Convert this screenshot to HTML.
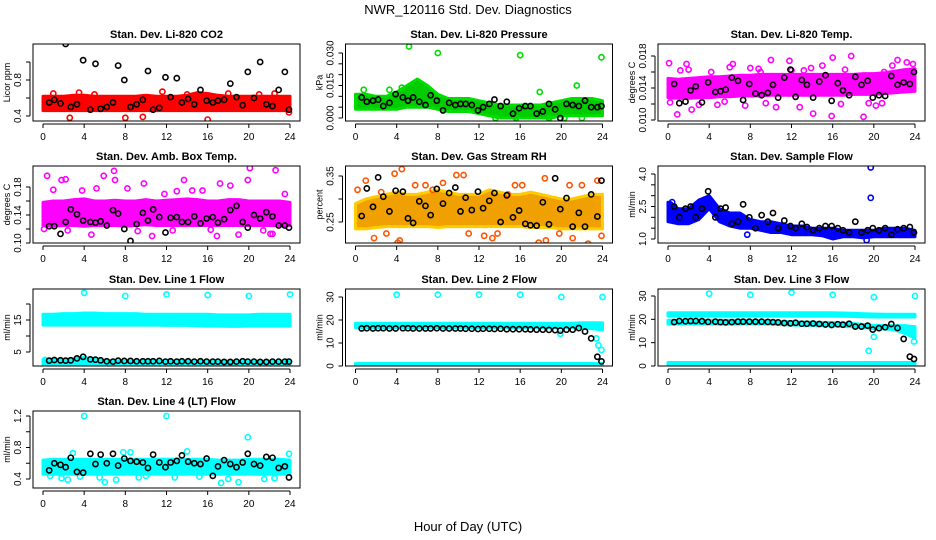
<!DOCTYPE html>
<html><head><meta charset="utf-8"><style>
body{margin:0;background:#fff;}
svg{display:block;font-family:"Liberation Sans",sans-serif;}
</style></head><body>
<svg id="c" width="936" height="540" viewBox="0 0 936 540">
<text x="468" y="14" text-anchor="middle" font-size="13">NWR_120116  Std. Dev. Diagnostics</text>
<text x="468" y="531" text-anchor="middle" font-size="13">Hour of Day (UTC)</text>
</svg>
<script>
const bandHours=[0,1,2,3,4,5,6,7,8,9,10,11,12,13,14,15,16,17,18,19,20,21,22,23,24];
const blackHours=[0.6,1.1,1.7,2.2,2.7,3.3,3.9,4.6,5.1,5.6,6.2,6.8,7.3,7.9,8.5,9.1,9.7,10.2,10.7,11.3,11.9,12.4,13.0,13.5,14.1,14.7,15.3,15.9,16.5,17.0,17.6,18.2,18.8,19.4,19.9,20.5,21.1,21.7,22.3,22.9,23.5,23.9];
const xTicks=[0,4,8,12,16,20,24];

// P1 CO2
const co2Lo=[0.46,0.46,0.46,0.46,0.46,0.46,0.46,0.46,0.46,0.46,0.46,0.46,0.46,0.46,0.46,0.46,0.46,0.46,0.46,0.46,0.46,0.46,0.46,0.46,0.46];
const co2Hi=[0.62,0.62,0.62,0.63,0.63,0.62,0.62,0.62,0.62,0.62,0.63,0.62,0.62,0.62,0.63,0.66,0.65,0.63,0.62,0.62,0.62,0.62,0.62,0.62,0.62];
const co2ExH=[2.6,8.0,9.7,16.0,23.9,1.0,3.5,11.6,0.2,5.0,14.0,18.0,21.0,22.5];
const co2ExV=[0.38,0.38,0.39,0.36,0.44,0.65,0.66,0.67,0.58,0.64,0.64,0.65,0.64,0.65];
const co2Blk=[0.55,0.58,0.54,1.2,0.5,0.53,1.02,0.47,0.98,0.48,0.5,0.55,0.96,0.8,0.5,0.53,0.58,0.9,0.47,0.49,0.83,0.61,0.82,0.55,0.59,0.53,0.69,0.57,0.55,0.57,0.58,0.76,0.61,0.52,0.89,0.6,1.0,0.53,0.51,0.69,0.89,0.47];
// P2 pressure
const prLo=[0.004,0.004,0.004,0.004,0.004,0.005,0.005,0.005,0.004,0.003,0.003,0.003,0.002,0.001,0.000,0.000,0.000,0.000,0.000,0.000,0.001,0.001,0.001,0.001,0.001];
const prHi=[0.011,0.011,0.010,0.010,0.012,0.015,0.018,0.015,0.011,0.009,0.009,0.009,0.008,0.007,0.006,0.006,0.006,0.006,0.006,0.007,0.008,0.009,0.009,0.009,0.008];
const prExH=[5.2,8.0,16.0,23.9,0.8,3.3,4.5,17.9,21.5,13.6,15.6,20.3,18.8,22.0];
const prExV=[0.033,0.030,0.029,0.028,0.013,0.013,0.014,0.012,0.015,0.0,0.0,0.0,0.0,0.0];
const prBlk=[0.0095,0.0075,0.008,0.0085,0.0055,0.007,0.011,0.0095,0.008,0.0095,0.0075,0.006,0.0105,0.008,0.0035,0.007,0.006,0.0065,0.0065,0.006,0.0035,0.005,0.0065,0.0085,0.0055,0.0075,0.002,0.0045,0.0055,0.0055,0.002,0.003,0.0065,0.004,0.0,0.0065,0.006,0.0055,0.008,0.005,0.005,0.0055];
// P3 temp
const tpLo=[0.0128,0.0127,0.0127,0.0128,0.0128,0.0129,0.0129,0.0130,0.0130,0.0130,0.0131,0.0131,0.0131,0.0131,0.0131,0.0131,0.0131,0.0131,0.0132,0.0132,0.0132,0.0133,0.0134,0.0135,0.0136];
const tpHi=[0.0152,0.0151,0.0152,0.0153,0.0154,0.0154,0.0155,0.0156,0.0156,0.0157,0.0157,0.0157,0.0157,0.0157,0.0157,0.0157,0.0157,0.0157,0.0157,0.0158,0.0158,0.0159,0.0161,0.0163,0.0164];
const tpExH=[0.1,0.9,1.8,10.0,11.8,17.8,19.0,16.0,22.3,13.9,2.3,5.5,7.5,10.5,12.8,15.9,20.2,23.2,6.3,8.0,14.1,4.2,18.3,21.0,0.2,3.0,9.0,12.0,16.8,19.5,2.0,6.0,9.5,15.0,21.8,23.8,1.2,4.8,8.8,13.2,17.2,20.8];
const tpExV=[0.0171,0.0107,0.0170,0.0175,0.0174,0.0180,0.0104,0.0178,0.0175,0.0165,0.0113,0.0123,0.0118,0.0116,0.0116,0.0105,0.0118,0.0172,0.0170,0.0165,0.0108,0.0160,0.0150,0.0160,0.0122,0.0119,0.0160,0.0162,0.0120,0.0121,0.0163,0.0166,0.0121,0.0168,0.0168,0.0170,0.0162,0.0119,0.0164,0.0162,0.0163,0.0121];
const tpBlk=[0.0145,0.0121,0.0123,0.0137,0.0142,0.0122,0.0147,0.0135,0.0136,0.0138,0.0153,0.0149,0.0125,0.0145,0.0133,0.0131,0.0134,0.0144,0.0128,0.0153,0.0163,0.0129,0.0150,0.0144,0.0128,0.0148,0.0156,0.0124,0.0146,0.0137,0.0131,0.0154,0.0144,0.0149,0.0128,0.0131,0.0130,0.0155,0.0144,0.0147,0.0145,0.0160];
// P4 amb box
const abLo=[0.125,0.124,0.125,0.125,0.124,0.125,0.125,0.125,0.124,0.125,0.126,0.125,0.125,0.125,0.125,0.125,0.125,0.125,0.125,0.125,0.125,0.125,0.125,0.125,0.125];
const abHi=[0.158,0.160,0.160,0.162,0.163,0.160,0.160,0.161,0.160,0.160,0.162,0.160,0.161,0.162,0.163,0.162,0.160,0.160,0.162,0.162,0.160,0.160,0.160,0.160,0.158];
const abExH=[0.4,1.8,2.2,5.9,6.9,7.0,10.6,4.7,9.8,13.7,19.9,20.1,22.6,22.1,22.3,16.9,19.0,0.1,3.8,11.8,14.5,17.2,2.4,8.2,12.6,15.5,18.2,21.4,1.0,5.2,9.2,13.0,16.3,23.5];
const abExV=[0.196,0.19,0.191,0.196,0.203,0.19,0.11,0.112,0.185,0.19,0.19,0.207,0.204,0.113,0.113,0.11,0.112,0.12,0.175,0.17,0.175,0.185,0.118,0.178,0.118,0.175,0.182,0.118,0.176,0.178,0.117,0.174,0.119,0.17];
const abBlk=[0.124,0.124,0.113,0.13,0.148,0.141,0.132,0.13,0.129,0.131,0.125,0.147,0.142,0.12,0.103,0.127,0.143,0.132,0.148,0.137,0.115,0.136,0.137,0.13,0.13,0.138,0.128,0.135,0.137,0.129,0.134,0.147,0.153,0.13,0.122,0.14,0.135,0.144,0.138,0.125,0.125,0.122];
// P5 RH
const rhLo=[0.235,0.235,0.238,0.24,0.24,0.24,0.24,0.24,0.238,0.24,0.24,0.24,0.24,0.24,0.24,0.24,0.24,0.238,0.238,0.238,0.235,0.235,0.235,0.235,0.235];
const rhHi=[0.29,0.3,0.305,0.31,0.315,0.31,0.31,0.315,0.32,0.315,0.31,0.31,0.31,0.32,0.315,0.31,0.31,0.315,0.31,0.305,0.3,0.3,0.305,0.31,0.31];
const rhExH=[4.5,3.8,9.8,10.5,18.4,23.5,1.0,4.1,4.3,1.8,12.5,13.3,17.8,22.6,18.5,21.1,23.9,6.8,15.5,7.5,14.8,0.2,2.5,8.5,11.0,16.2,19.8,20.8,3.0,5.8,13.8,22.0];
const rhExV=[0.365,0.355,0.352,0.352,0.345,0.34,0.34,0.205,0.21,0.215,0.22,0.215,0.205,0.203,0.21,0.215,0.22,0.33,0.33,0.32,0.31,0.32,0.315,0.335,0.225,0.33,0.225,0.33,0.225,0.33,0.225,0.33];
const rhBlk=[0.263,0.323,0.283,0.347,0.305,0.273,0.318,0.316,0.258,0.248,0.295,0.285,0.265,0.322,0.29,0.313,0.325,0.273,0.303,0.276,0.316,0.28,0.296,0.313,0.25,0.308,0.26,0.275,0.246,0.243,0.242,0.293,0.245,0.345,0.278,0.302,0.24,0.27,0.24,0.31,0.262,0.34];
// P6 sample flow
const sfLo=[1.8,1.7,1.7,1.9,2.4,1.8,1.6,1.5,1.5,1.4,1.3,1.3,1.2,1.2,1.2,1.15,1.0,1.1,1.1,1.05,1.1,1.1,1.1,1.1,1.1];
const sfHi=[2.7,2.4,2.4,2.8,3.0,2.4,2.2,2.2,1.9,1.8,1.8,1.7,1.6,1.6,1.5,1.5,1.5,1.4,1.4,1.4,1.4,1.5,1.5,1.5,1.4];
const sfExH=[19.7,19.7,19.3,0.2,0.4,7.7];
const sfExV=[4.3,2.9,0.95,2.6,2.7,1.2];
const sfBlk=[2.5,2.0,2.4,2.5,2.0,2.4,3.2,2.0,2.4,2.45,1.7,1.8,2.6,2.0,1.5,2.1,1.8,2.2,1.5,1.85,1.6,1.5,1.7,1.55,1.4,1.5,1.6,1.6,1.5,1.4,1.3,1.8,1.3,1.4,1.5,1.4,1.5,1.2,1.45,1.5,1.55,1.3];
// P7 line1
const l1UpLo=[13.4,13.4,13.4,13.4,13.4,13.4,13.4,13.4,13.4,13.4,13.4,13.4,13.3,13.3,13.3,13.2,13.1,13.1,13.0,13.0,13.1,13.1,13.1,13.1,13.1];
const l1UpHi=[16.8,16.8,17.0,17.0,17.2,17.2,17.0,17.0,17.0,17.0,16.8,16.8,16.8,16.8,16.8,16.8,16.8,16.6,16.6,16.6,16.6,16.8,16.8,16.8,16.8];
const l1LoLo=[1.0,1.0,1.0,1.0,1.0,1.0,1.0,1.0,1.0,1.0,1.0,1.0,1.0,1.0,1.0,1.0,1.0,1.0,1.0,1.0,1.0,1.0,1.0,1.0,1.0];
const l1LoHi=[2.7,2.7,2.7,2.9,3.3,2.7,2.3,2.3,2.2,2.2,2.2,2.2,2.2,2.2,2.2,2.2,2.2,2.1,2.1,2.1,2.1,2.1,2.1,2.1,2.1];
const l1ExH=[4,8,12,16,20,24,0.2];
const l1ExV=[23.5,22.5,23,22.8,22.5,23,2.5];
const l1Blk=[2.3,2.5,2.4,2.3,2.4,3.0,3.5,2.7,2.6,2.4,2.1,2.0,2.3,2.2,2.2,2.1,2.1,2.1,2.1,2.2,2.0,2.1,2.0,2.1,2.1,2.0,2.1,2.0,2.0,2.0,1.9,1.9,2.0,2.1,2.0,2.0,1.9,1.9,2.0,2.0,2.0,2.0];
// P8 line2
const l2UpLo=[16.7,16.7,16.7,16.7,16.7,16.7,16.7,16.7,16.7,16.7,16.7,16.7,16.7,16.7,16.7,16.7,16.7,16.7,16.7,16.7,16.7,16.7,16.7,16.2,15.7];
const l2UpHi=[18.6,18.6,18.6,18.6,18.6,18.6,18.6,18.6,18.6,18.6,18.6,18.6,18.6,18.6,18.6,18.6,18.6,18.6,18.6,18.6,18.6,18.6,18.8,18.8,18.8];
const l2LoLo=[0.3,0.3,0.3,0.3,0.3,0.3,0.3,0.3,0.3,0.3,0.3,0.3,0.3,0.3,0.3,0.3,0.3,0.3,0.3,0.3,0.3,0.3,0.3,0.3,0.3];
const l2LoHi=[1.1,1.1,1.1,1.1,1.1,1.1,1.1,1.1,1.1,1.1,1.1,1.1,1.1,1.1,1.1,1.1,1.1,1.1,1.1,1.1,1.1,1.1,1.1,1.1,1.1];
const l2ExH=[4,8,12,16,20,24,19.9,23.4,23.6,23.9];
const l2ExV=[31,31,31,31,30,30,14,12,9,7];
const l2Blk=[16.3,16.4,16.3,16.4,16.4,16.3,16.3,16.4,16.4,16.3,16.3,16.3,16.3,16.4,16.3,16.3,16.3,16.3,16.2,16.2,16.1,16.2,16.2,16.1,16.2,16.0,16.0,16.0,16.0,15.9,15.8,15.8,15.7,15.6,15.4,15.8,15.8,16.5,15.0,12.0,4.0,2.0];
// P9 line3
const l3UpLo=[21.4,21.4,21.4,21.4,21.4,21.4,21.4,21.4,21.4,21.4,21.4,21.4,21.4,21.4,21.4,21.4,21.4,21.3,21.2,21.1,21.0,21.0,21.0,21.0,21.0];
const l3UpHi=[22.8,22.8,22.8,22.8,22.8,22.8,22.8,22.8,22.8,22.8,22.8,22.8,22.8,22.8,22.8,22.8,22.8,22.7,22.6,22.4,22.3,22.2,22.2,22.2,22.2];
const l3MidLo=[18.0,18.0,18.0,18.0,18.0,18.0,18.0,18.0,18.0,18.0,18.0,17.8,17.6,17.5,17.5,17.3,17.2,17.0,16.8,16.5,16.0,16.0,15.5,14.0,12.0];
const l3MidHi=[19.6,19.6,19.6,19.6,19.6,19.6,19.6,19.6,19.6,19.4,19.4,19.2,19.0,18.8,18.8,18.6,18.6,18.4,18.2,17.8,17.4,17.3,17.3,17.3,16.8];
const l3LoLo=[0.7,0.7,0.7,0.7,0.7,0.7,0.7,0.7,0.7,0.7,0.7,0.7,0.7,0.7,0.7,0.7,0.7,0.7,0.7,0.7,0.7,0.7,0.7,0.7,0.7];
const l3LoHi=[1.5,1.5,1.5,1.5,1.5,1.5,1.5,1.5,1.5,1.5,1.5,1.5,1.5,1.5,1.5,1.5,1.5,1.5,1.5,1.5,1.5,1.5,1.5,1.5,1.5];
const l3ExH=[4,8,12,16,20,24,19.5,20.0,23.9,23.6];
const l3ExV=[31,30.5,31.5,30.5,29.5,30,6.5,12.5,10.5,14];
const l3Blk=[18.8,19.3,19.2,19.3,19.3,19.2,18.9,19.0,18.8,18.7,18.8,19.0,19.0,19.0,19.0,19.0,18.9,18.8,18.7,18.4,18.3,18.5,18.1,18.1,18.2,18.0,17.8,17.6,17.9,17.7,18.1,16.9,16.9,17.3,15.6,16.2,16.6,18.0,16.3,11.6,4.0,3.0];
// P10 line4
const l4Lo=[0.46,0.46,0.46,0.46,0.46,0.46,0.46,0.46,0.46,0.46,0.46,0.46,0.46,0.46,0.46,0.46,0.46,0.46,0.46,0.46,0.46,0.46,0.46,0.46,0.46];
const l4Hi=[0.64,0.65,0.65,0.65,0.65,0.65,0.65,0.65,0.65,0.65,0.65,0.65,0.65,0.65,0.65,0.65,0.65,0.64,0.64,0.64,0.65,0.65,0.65,0.65,0.64];
const l4ExH=[4,12,19.9,6,17.3,19,2.9,7.8,8.5,14,23.9,0.7,5.5,7.1,1.8,2.4,9.3,12.8,15.2,21.5,22.5,3.6,10.0,18.0];
const l4ExV=[1.2,1.2,0.93,0.36,0.35,0.36,0.73,0.74,0.74,0.75,0.72,0.44,0.42,0.39,0.41,0.39,0.42,0.42,0.43,0.4,0.41,0.43,0.44,0.4];
const l4Blk=[0.51,0.6,0.58,0.55,0.67,0.49,0.48,0.72,0.59,0.71,0.6,0.72,0.57,0.66,0.63,0.62,0.61,0.54,0.71,0.61,0.55,0.61,0.63,0.7,0.62,0.6,0.59,0.66,0.44,0.56,0.64,0.59,0.55,0.61,0.72,0.59,0.57,0.68,0.67,0.54,0.56,0.42];

const NS="http://www.w3.org/2000/svg";
const svg=document.getElementById('c');
function mk(tag,attrs,parent){const e=document.createElementNS(NS,tag);for(const k in attrs)e.setAttribute(k,attrs[k]);(parent||svg).appendChild(e);return e;}

const colL=[33,345.5,658], rowT=[44,166,289,411], W=267, H=77;

const panels=[
 {name:'co2',title:'Stan. Dev. Li-820 CO2',unit:'Licor ppm',c:0,r:0,va:0.4,pa:116,vb:0.8,pb:80,ticks:[0.4,0.6,0.8,1.0],lab:[0.4,0.8],fmt:1,col:'#ff0000',fill:'#ff0000',bands:[[co2Lo,co2Hi]],exH:co2ExH,exV:co2ExV,blk:co2Blk},
 {name:'pressure',title:'Stan. Dev. Li-820 Pressure',unit:'kPa',c:1,r:0,va:0,pa:118,vb:0.03,pb:53,ticks:[0,0.005,0.01,0.015,0.02,0.025,0.03],lab:[0,0.015,0.03],fmt:3,col:'#00dd00',fill:'#00cc00',bands:[[prLo,prHi]],exH:prExH,exV:prExV,blk:prBlk},
 {name:'temp',title:'Stan. Dev. Li-820 Temp.',unit:'degrees C',c:2,r:0,va:0.010,pa:120,vb:0.018,pb:56,ticks:[0.010,0.012,0.014,0.016,0.018],lab:[0.010,0.014,0.018],fmt:3,col:'#ff00ff',fill:'#ff00ff',bands:[[tpLo,tpHi]],exH:tpExH,exV:tpExV,blk:tpBlk},
 {name:'amb-box',title:'Stan. Dev. Amb. Box Temp.',unit:'degrees C',c:0,r:1,va:0.10,pa:243,vb:0.18,pb:187,ticks:[0.10,0.12,0.14,0.16,0.18],lab:[0.10,0.14,0.18],fmt:2,col:'#ff00ff',fill:'#ff00ff',bands:[[abLo,abHi]],exH:abExH,exV:abExV,blk:abBlk},
 {name:'gas-rh',title:'Stan. Dev. Gas Stream RH',unit:'percent',c:1,r:1,va:0.25,pa:222,vb:0.35,pb:176,ticks:[0.25,0.30,0.35],lab:[0.25,0.35],fmt:2,col:'#ffcc00',fill:'#f0a000',bands:[[rhLo,rhHi]],exH:rhExH,exV:rhExV,blk:rhBlk,ring:'#ff5500'},
 {name:'sample-flow',title:'Stan. Dev. Sample Flow',unit:'ml/min',c:2,r:1,va:1.0,pa:239,vb:4.0,pb:174,ticks:[1.0,1.5,2.0,2.5,3.0,3.5,4.0],lab:[1.0,2.5,4.0],fmt:1,col:'#0000ff',fill:'#0000ff',bands:[[sfLo,sfHi]],exH:sfExH,exV:sfExV,blk:sfBlk},
 {name:'line1',title:'Stan. Dev. Line 1 Flow',unit:'ml/min',c:0,r:2,va:5,pa:352,vb:15,pb:320,ticks:[5,10,15,20],lab:[5,15],fmt:0,col:'#00ffff',fill:'#00ffff',bands:[[l1UpLo,l1UpHi],[l1LoLo,l1LoHi]],exH:l1ExH,exV:l1ExV,blk:l1Blk},
 {name:'line2',title:'Stan. Dev. Line 2 Flow',unit:'ml/min',c:1,r:2,va:0,pa:366,vb:30,pb:297,ticks:[0,10,20,30],lab:[0,10,20,30],fmt:0,col:'#00ffff',fill:'#00ffff',bands:[[l2UpLo,l2UpHi],[l2LoLo,l2LoHi]],exH:l2ExH,exV:l2ExV,blk:l2Blk},
 {name:'line3',title:'Stan. Dev. Line 3 Flow',unit:'ml/min',c:2,r:2,va:0,pa:366,vb:30,pb:296,ticks:[0,10,20,30],lab:[0,10,20,30],fmt:0,col:'#00ffff',fill:'#00ffff',bands:[[l3UpLo,l3UpHi],[l3MidLo,l3MidHi],[l3LoLo,l3LoHi]],exH:l3ExH,exV:l3ExV,blk:l3Blk},
 {name:'line4',title:'Stan. Dev. Line 4 (LT) Flow',unit:'ml/min',c:0,r:3,va:0.4,pa:479,vb:1.2,pb:416,ticks:[0.4,0.6,0.8,1.0,1.2],lab:[0.4,0.8,1.2],fmt:1,col:'#00ffff',fill:'#00ffff',bands:[[l4Lo,l4Hi]],exH:l4ExH,exV:l4ExV,blk:l4Blk}
];

panels.forEach(p=>{
  const L=colL[p.c], T=rowT[p.r];
  const g=mk('g',{});
  
  
  const X=h=>L+10+h*247/24;
  const Y=v=>p.pa+(v-p.va)*(p.pb-p.pa)/(p.vb-p.va);
  const cp=mk('clipPath',{id:'cl-'+p.name},g);
  mk('rect',{x:L,y:T,width:W,height:H},cp);
  const pg=mk('g',{'clip-path':'url(#cl-'+p.name+')'},g);
  p.bands.forEach(b=>{
    let d='';
    bandHours.forEach((h,i)=>{d+=(i?'L':'M')+X(h).toFixed(1)+' '+Y(b[1][i]).toFixed(1);});
    for(let i=bandHours.length-1;i>=0;i--)d+='L'+X(bandHours[i]).toFixed(1)+' '+Y(b[0][i]).toFixed(1);
    const e=mk('path',{d:d+'Z',fill:p.fill,stroke:p.col,'stroke-width':3,'stroke-linejoin':'round'},pg);
    
    
  });
  p.exH.forEach((h,i)=>{
    const e=mk('circle',{cx:X(h),cy:Y(p.exV[i]),r:2.6,fill:'none',stroke:p.ring||p.col,'stroke-width':1.6},pg);
    
    
  });
  p.blk.forEach((v,i)=>{
    const e=mk('circle',{cx:X(blackHours[i]),cy:Y(v),r:2.6,fill:'none',stroke:'#000','stroke-width':1.6},pg);
    
    
  });
  const box=mk('rect',{x:L,y:T,width:W,height:H,fill:'none',stroke:'#000','stroke-width':1},g);
  
  
  const t=mk('text',{x:L+W/2,y:T-6,'text-anchor':'middle','font-size':11,'font-weight':'bold'},g);
  t.textContent=p.title;
  
  
  const ax=T+H+3;
  mk('line',{x1:X(0),x2:X(24),y1:ax,y2:ax,stroke:'#000'},g);
  xTicks.forEach(h=>{
    mk('line',{x1:X(h),x2:X(h),y1:ax,y2:ax+4,stroke:'#000'},g);
    const tl=mk('text',{x:X(h),y:ax+16,'text-anchor':'middle','font-size':10},g);
    tl.textContent=h;
    
    
  });
  const ay=L-3;
  mk('line',{x1:ay,x2:ay,y1:Y(p.ticks[0]),y2:Y(p.ticks[p.ticks.length-1]),stroke:'#000'},g);
  p.ticks.forEach(v=>{mk('line',{x1:ay-4,x2:ay,y1:Y(v),y2:Y(v),stroke:'#000'},g);});
  p.lab.forEach(v=>{
    const yy=Y(v), xx=ay-9;
    const tl=mk('text',{x:xx,y:yy,'text-anchor':'middle','font-size':10,transform:'rotate(-90 '+xx+' '+yy+')'},g);
    tl.textContent=v.toFixed(p.fmt);
    
    
  });
  const ux=L-23, uy=T+H/2;
  const ut=mk('text',{x:ux,y:uy,'text-anchor':'middle','font-size':9,transform:'rotate(-90 '+ux+' '+uy+')'},g);
  ut.textContent=p.unit;
  
  
});
</script>
</body></html>
